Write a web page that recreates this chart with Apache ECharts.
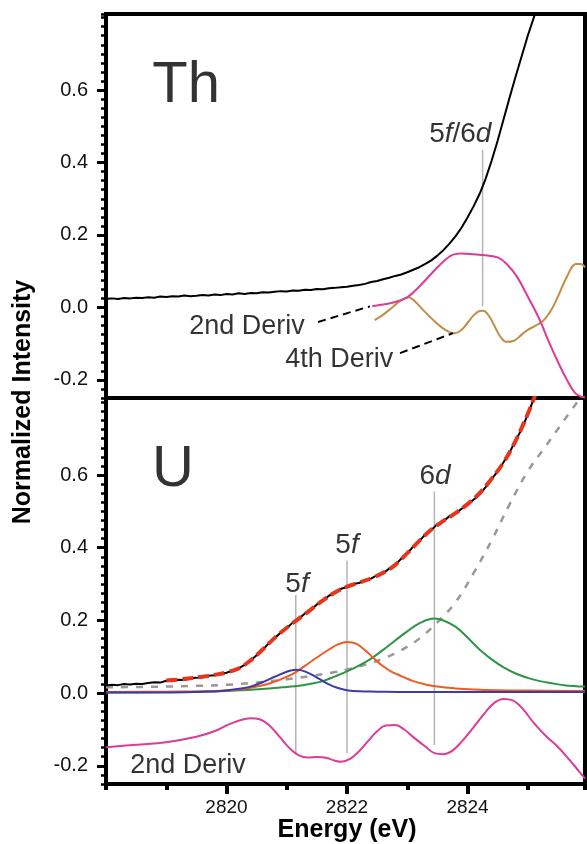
<!DOCTYPE html>
<html>
<head>
<meta charset="utf-8">
<script src="https://cdn.jsdelivr.net/npm/echarts@6/dist/echarts.min.js"></script>
<style>
  html, body { margin: 0; padding: 0; background: #fff; }
  #chart { width: 587px; height: 844px; }
</style>
</head>
<body>
<div id="chart"></div>
<script>
// ---- data (energy in eV, normalized intensity) ----
// Th panel
var thXanes = [
  [2818.0,0.024],[2818.1,0.025],[2818.2,0.023],[2818.3,0.026],[2818.4,0.025],[2818.5,0.027],
  [2818.6,0.026],[2818.7,0.028],[2818.8,0.027],[2818.9,0.030],[2819.0,0.029],[2819.1,0.031],
  [2819.2,0.030],[2819.3,0.033],[2819.4,0.031],[2819.5,0.032],[2819.6,0.034],[2819.7,0.033],
  [2819.8,0.036],[2819.9,0.034],[2820.0,0.037],[2820.1,0.036],[2820.2,0.039],[2820.3,0.037],
  [2820.4,0.040],[2820.5,0.039],[2820.6,0.042],[2820.7,0.041],[2820.8,0.043],[2820.9,0.045],
  [2821.0,0.044],[2821.1,0.047],[2821.2,0.046],[2821.3,0.049],[2821.4,0.048],[2821.5,0.051],
  [2821.6,0.050],[2821.7,0.053],[2821.8,0.054],[2821.9,0.056],[2822.0,0.057],[2822.1,0.060],
  [2822.2,0.062],[2822.3,0.065],[2822.4,0.070],[2822.5,0.073],[2822.6,0.078],[2822.7,0.082],
  [2822.8,0.087],[2822.9,0.091],[2823.0,0.097],[2823.1,0.104],[2823.2,0.111],[2823.3,0.120],
  [2823.4,0.130],[2823.5,0.143],[2823.6,0.158],[2823.7,0.176],[2823.8,0.196],[2823.9,0.220],
  [2824.0,0.248],[2824.1,0.279],[2824.2,0.313],[2824.3,0.355],[2824.4,0.405],[2824.5,0.460],
  [2824.6,0.520],[2824.7,0.580],[2824.8,0.638],[2824.9,0.694],[2825.0,0.750],[2825.1,0.800],
  [2825.2,0.850]
];
var th2ndDeriv = [
  [2822.42,0.003],[2822.6,0.008],[2822.8,0.015],[2823.0,0.028],[2823.2,0.058],[2823.4,0.093],
  [2823.6,0.127],[2823.75,0.145],[2823.9,0.149],[2824.1,0.147],[2824.3,0.144],[2824.5,0.138],
  [2824.65,0.120],[2824.82,0.085],[2825.0,0.030],[2825.2,-0.035],[2825.35,-0.095],
  [2825.5,-0.150],[2825.65,-0.200],[2825.78,-0.235],[2825.88,-0.246],[2825.95,-0.248]
];
var th4thDeriv = [
  [2822.46,-0.035],[2822.6,-0.020],[2822.75,0.000],[2822.9,0.020],[2823.02,0.028],[2823.12,0.018],
  [2823.27,-0.008],[2823.42,-0.033],[2823.57,-0.055],[2823.7,-0.068],[2823.79,-0.071],
  [2823.9,-0.062],[2824.0,-0.043],[2824.1,-0.022],[2824.2,-0.010],[2824.26,-0.009],
  [2824.35,-0.022],[2824.45,-0.052],[2824.55,-0.082],[2824.65,-0.095],[2824.77,-0.092],
  [2824.9,-0.075],[2825.0,-0.062],[2825.1,-0.053],[2825.25,-0.038],[2825.38,-0.010],
  [2825.5,0.030],[2825.65,0.085],[2825.8,0.120],[2825.88,0.120],[2825.95,0.110]
];
// U panel
var uXanes = [
  [2818.0,0.021],[2818.1,0.023],[2818.2,0.022],[2818.3,0.025],[2818.4,0.024],[2818.5,0.026],
  [2818.6,0.025],[2818.7,0.028],[2818.8,0.030],[2818.9,0.029],[2819.0,0.034],[2819.1,0.033],
  [2819.2,0.037],[2819.3,0.036],[2819.4,0.041],[2819.5,0.042],[2819.6,0.044],[2819.7,0.048],
  [2819.8,0.049],[2819.9,0.054],[2820.0,0.056],[2820.1,0.062],[2820.2,0.068],[2820.3,0.078],
  [2820.4,0.090],[2820.5,0.104],[2820.6,0.119],[2820.7,0.137],[2820.8,0.151],[2820.9,0.167],
  [2821.0,0.179],[2821.1,0.194],[2821.2,0.204],[2821.3,0.219],[2821.4,0.229],[2821.5,0.244],
  [2821.6,0.254],[2821.7,0.268],[2821.8,0.276],[2821.9,0.287],[2822.0,0.292],[2822.1,0.300],
  [2822.2,0.303],[2822.3,0.311],[2822.4,0.315],[2822.5,0.325],[2822.6,0.329],[2822.7,0.343],
  [2822.8,0.352],[2822.9,0.370],[2823.0,0.384],[2823.1,0.404],[2823.2,0.418],[2823.3,0.437],
  [2823.4,0.449],[2823.5,0.465],[2823.6,0.473],[2823.7,0.487],[2823.8,0.494],[2823.9,0.507],
  [2824.0,0.518],[2824.1,0.532],[2824.2,0.546],[2824.3,0.567],[2824.4,0.589],[2824.5,0.610],
  [2824.6,0.636],[2824.7,0.663],[2824.8,0.695],[2824.9,0.727],[2825.0,0.766],[2825.1,0.810],
  [2825.2,0.855]
];
var uFit = [
  [2819.0,0.035],[2819.2,0.037],[2819.4,0.041],[2819.6,0.045],[2819.8,0.050],[2820.0,0.057],
  [2820.2,0.068],[2820.4,0.090],[2820.6,0.120],[2820.8,0.152],[2821.0,0.180],[2821.2,0.205],
  [2821.4,0.230],[2821.6,0.255],[2821.8,0.277],[2822.0,0.293],[2822.2,0.304],[2822.4,0.316],
  [2822.6,0.331],[2822.8,0.353],[2823.0,0.385],[2823.2,0.419],[2823.4,0.450],[2823.6,0.474],
  [2823.8,0.495],[2824.0,0.520],[2824.2,0.550],[2824.4,0.590],[2824.6,0.635],[2824.8,0.695],
  [2825.0,0.768],[2825.1,0.810],[2825.2,0.855]
];
var uEdgeStep = [
  [2818.0,0.016],[2818.5,0.017],[2819.0,0.018],[2819.5,0.020],[2820.0,0.023],[2820.5,0.029],
  [2821.0,0.038],[2821.4,0.047],[2821.8,0.058],[2822.0,0.065],[2822.3,0.078],[2822.6,0.095],
  [2822.9,0.118],[2823.2,0.150],[2823.5,0.195],[2823.8,0.250],[2824.1,0.330],[2824.4,0.420],
  [2824.7,0.520],[2825.0,0.610],[2825.3,0.680],[2825.6,0.750],[2825.95,0.830]
];
var uPeak5fLow = [
  [2818.0,0.002],[2819.0,0.002],[2819.6,0.004],[2819.9,0.006],[2820.2,0.012],[2820.4,0.018],
  [2820.6,0.030],[2820.8,0.045],[2821.0,0.059],[2821.15,0.064],[2821.3,0.060],[2821.5,0.043],
  [2821.7,0.024],[2821.85,0.014],[2822.0,0.008],[2822.2,0.005],[2822.5,0.004],[2823.0,0.003],
  [2825.95,0.003]
];
var uPeak5fHigh = [
  [2818.0,0.003],[2819.0,0.004],[2819.8,0.006],[2820.2,0.010],[2820.5,0.018],[2820.7,0.026],
  [2820.9,0.038],[2821.1,0.053],[2821.3,0.075],[2821.5,0.098],[2821.7,0.120],[2821.85,0.134],
  [2822.0,0.141],[2822.15,0.136],[2822.3,0.118],[2822.45,0.095],[2822.6,0.074],[2822.75,0.058],
  [2822.9,0.047],[2823.1,0.033],[2823.3,0.024],[2823.5,0.018],[2823.8,0.013],[2824.1,0.010],
  [2824.5,0.008],[2825.0,0.007],[2825.95,0.006]
];
var uPeak6d = [
  [2818.0,0.002],[2819.0,0.003],[2819.6,0.004],[2820.0,0.006],[2820.4,0.009],[2820.8,0.014],
  [2821.0,0.017],[2821.2,0.020],[2821.4,0.026],[2821.6,0.033],[2821.8,0.046],[2822.0,0.060],
  [2822.2,0.076],[2822.4,0.095],[2822.6,0.119],[2822.8,0.145],[2823.0,0.170],[2823.2,0.192],
  [2823.45,0.205],[2823.6,0.200],[2823.8,0.183],[2824.0,0.153],[2824.2,0.120],[2824.4,0.093],
  [2824.6,0.071],[2824.8,0.054],[2825.0,0.042],[2825.2,0.033],[2825.4,0.027],[2825.6,0.022],
  [2825.95,0.018]
];
var u2ndDeriv = [
  [2818.0,-0.149],[2818.5,-0.142],[2819.0,-0.135],[2819.5,-0.120],[2819.8,-0.105],[2820.0,-0.089],
  [2820.2,-0.076],[2820.4,-0.069],[2820.55,-0.072],[2820.7,-0.087],[2820.9,-0.124],[2821.05,-0.152],
  [2821.2,-0.171],[2821.35,-0.177],[2821.5,-0.176],[2821.65,-0.178],[2821.8,-0.186],[2821.9,-0.189],
  [2822.05,-0.181],[2822.2,-0.160],[2822.35,-0.132],[2822.5,-0.105],[2822.65,-0.089],[2822.8,-0.088],
  [2822.95,-0.100],[2823.1,-0.121],[2823.3,-0.147],[2823.45,-0.165],[2823.6,-0.168],[2823.75,-0.158],
  [2823.9,-0.134],[2824.1,-0.094],[2824.3,-0.052],[2824.45,-0.026],[2824.6,-0.016],[2824.75,-0.020],
  [2824.9,-0.040],[2825.1,-0.082],[2825.3,-0.118],[2825.5,-0.148],[2825.7,-0.185],[2825.85,-0.215],
  [2825.95,-0.235]
];
// peak markers (energy, from, to) and leader lines for the Th derivative labels
var thMarkers = [[2824.25, 0.435, 0.003]];
var uMarkers = [[2821.15, 0.27, -0.165], [2822.0, 0.365, -0.165], [2823.45, 0.555, -0.143]];
var thLeader2nd = [[2821.52,-0.040],[2822.38,0.003]];
var thLeader4th = [[2822.88,-0.126],[2823.76,-0.071]];
// text labels
var thLabels = [
  {text: 'Th', at: [2819.33, 0.611], size: 58},
  {text: '5{i|f}/6{i|d}', at: [2823.88, 0.479], size: 28},
  {text: '2nd Deriv', at: [2820.34, -0.054], size: 27},
  {text: '4th Deriv', at: [2821.87, -0.145], size: 27}
];
var uLabels = [
  {text: 'U', at: [2819.11, 0.613], size: 58},
  {text: '5{i|f}', at: [2821.17, 0.300], size: 28},
  {text: '5{i|f}', at: [2822.0, 0.407], size: 28},
  {text: '6{i|d}', at: [2823.46, 0.597], size: 28},
  {text: '2nd Deriv', at: [2819.36, -0.198], size: 27}
];
// axis ranges
var eMin = 2818, eMax = 2825.95;
var thRange = [-0.25, 0.81], uRange = [-0.25, 0.812];
var yTickRange = [-0.2, 0.6];   // labelled ticks
var eTickRange = [2820, 2824];  // labelled ticks

var FONT = "'Liberation Sans', Arial, Helvetica, sans-serif";
var LEFT = 106, WIDTH = 479;
var TH_TOP = 14, TH_H = 384, U_TOP = 398, U_H = 386;

var chart = echarts.init(document.getElementById('chart'));

function lineSeries(data, xi, yi, color, width, extra) {
  var s = {
    type: 'line', data: data, xAxisIndex: xi, yAxisIndex: yi,
    symbol: 'none', silent: true, animation: false,
    lineStyle: {color: color, width: width}
  };
  for (var key in extra) s[key] = extra[key];
  return s;
}
function withSmooth(extra) { return Object.assign({smooth: 0.4}, extra || {}); }

function markerSeries(list, xi, yi) {
  return list.map(function (m) {
    return lineSeries([[m[0], m[1]], [m[0], m[2]]], xi, yi, '#b4b4b4', 1.5, {z: 1});
  });
}

function labelSeries(list, xi, yi) {
  return {
    type: 'scatter', xAxisIndex: xi, yAxisIndex: yi, symbolSize: 1, silent: true,
    itemStyle: {color: 'rgba(0,0,0,0)'}, animation: false, z: 10,
    data: list.map(function (l) {
      return {
        value: l.at,
        label: {
          show: true, position: 'inside', formatter: l.text,
          fontSize: l.size, fontFamily: FONT, color: '#000',
          rich: {i: {fontStyle: 'italic', fontSize: l.size, fontFamily: FONT, color: '#000'}}
        }
      };
    })
  };
}

var series = [];
// Th panel (grid 0: xAxis 0, yAxis 0)
series = series.concat(markerSeries(thMarkers, 0, 0));
series.push(lineSeries(thXanes, 0, 0, '#000', 2));
series.push(lineSeries(th4thDeriv, 0, 0, '#c48c45', 2, withSmooth()));
series.push(lineSeries(th2ndDeriv, 0, 0, '#dc3c96', 2, withSmooth()));
series.push(lineSeries(thLeader2nd, 0, 0, '#000', 2, {lineStyle: {color: '#000', width: 2, type: [8, 5]}}));
series.push(lineSeries(thLeader4th, 0, 0, '#000', 2, {lineStyle: {color: '#000', width: 2, type: [8, 5]}}));
series.push(labelSeries(thLabels, 0, 0));
// U panel (grid 1: xAxis 1, yAxis 1)
series = series.concat(markerSeries(uMarkers, 1, 1));
series.push(lineSeries(uEdgeStep, 1, 1, '#9e9696', 2.5, withSmooth({lineStyle: {color: '#9e9696', width: 2.5, type: [7, 8]}})));
series.push(lineSeries(uPeak6d, 1, 1, '#2e9447', 2, withSmooth()));
series.push(lineSeries(uPeak5fHigh, 1, 1, '#ef5b23', 2, withSmooth()));
series.push(lineSeries(uPeak5fLow, 1, 1, '#3c3ca8', 2, withSmooth()));
series.push(lineSeries(u2ndDeriv, 1, 1, '#dc3c96', 2, withSmooth()));
series.push(lineSeries(uXanes, 1, 1, '#000', 2));
series.push(lineSeries(uFit, 1, 1, '#e8341c', 4, withSmooth({lineStyle: {color: '#e8341c', width: 4, type: [11, 5]}})));
series.push(labelSeries(uLabels, 1, 1));

var axisLineOn = {show: true, onZero: false, lineStyle: {color: '#000', width: 4}};
var hidden = {show: false};

// helper grids carry the labelled (major) ticks; each spans exactly its tick range
function pxPerUnit(range, h) { return h / (range[1] - range[0]); }
var thK = pxPerUnit(thRange, TH_H), uK = pxPerUnit(uRange, U_H), eK = WIDTH / (eMax - eMin);

var gridBase = {show: false, containLabel: false, outerBoundsMode: 'none'};
var grids = [
  Object.assign({}, gridBase, {left: LEFT, top: TH_TOP, width: WIDTH, height: TH_H, show: true,
    borderColor: '#000', borderWidth: 4, backgroundColor: 'transparent'}),
  Object.assign({}, gridBase, {left: LEFT, top: U_TOP, width: WIDTH, height: U_H, show: true,
    borderColor: '#000', borderWidth: 4, backgroundColor: 'transparent'}),
  // 2: Th major y ticks
  Object.assign({}, gridBase, {left: LEFT, width: WIDTH,
    top: TH_TOP + (thRange[1] - yTickRange[1]) * thK, height: (yTickRange[1] - yTickRange[0]) * thK}),
  // 3: U major y ticks
  Object.assign({}, gridBase, {left: LEFT, width: WIDTH,
    top: U_TOP + (uRange[1] - yTickRange[1]) * uK, height: (yTickRange[1] - yTickRange[0]) * uK}),
  // 4: major energy ticks
  Object.assign({}, gridBase, {left: LEFT + (eTickRange[0] - eMin) * eK,
    width: (eTickRange[1] - eTickRange[0]) * eK, top: U_TOP, height: U_H})
];

var yLabelStyle = {show: true, margin: 18, fontSize: 20, fontFamily: FONT, color: '#111',
  formatter: function (v) { return v.toFixed(1); }};

var option = {
  backgroundColor: '#fff',
  animation: false,
  grid: grids,
  xAxis: [
    {type: 'value', gridIndex: 0, min: eMin, max: eMax, axisLine: {show: false, onZero: false},
      axisTick: hidden, axisLabel: hidden, splitLine: hidden},
    {type: 'value', gridIndex: 1, min: eMin, max: eMax, interval: 1, axisLine: axisLineOn,
      splitLine: hidden, axisLabel: hidden,
      axisTick: {show: true, length: 6, lineStyle: {color: '#000', width: 4}}},
    {type: 'value', gridIndex: 2, min: eMin, max: eMax, show: false},
    {type: 'value', gridIndex: 3, min: eMin, max: eMax, show: false},
    {type: 'value', gridIndex: 4, min: eTickRange[0], max: eTickRange[1], interval: 2,
      axisLine: {show: false, onZero: false}, splitLine: hidden,
      axisTick: {show: true, length: 10, lineStyle: {color: '#000', width: 4}},
      axisLabel: {show: true, margin: 14, fontSize: 19, fontFamily: FONT, color: '#111',
        formatter: function (v) { return String(v); }},
      name: 'Energy (eV)', nameLocation: 'middle', nameGap: 34,
      nameTextStyle: {fontSize: 25, fontWeight: 'bold', fontFamily: FONT, color: '#000'}}
  ],
  yAxis: [
    // minor ticks every 0.025 (min = -0.25 is a multiple of it)
    {type: 'value', gridIndex: 0, min: thRange[0], max: thRange[1], interval: 0.025,
      axisLine: axisLineOn, splitLine: hidden, axisLabel: hidden,
      axisTick: {show: true, length: 5, lineStyle: {color: '#000', width: 2.5}}},
    {type: 'value', gridIndex: 1, min: uRange[0], max: uRange[1], interval: 0.025,
      axisLine: axisLineOn, splitLine: hidden, axisLabel: hidden,
      axisTick: {show: true, length: 5, lineStyle: {color: '#000', width: 2.5}}},
    {type: 'value', gridIndex: 2, min: yTickRange[0], max: yTickRange[1], interval: 0.2,
      axisLine: {show: false, onZero: false}, splitLine: hidden, axisLabel: yLabelStyle,
      axisTick: {show: true, length: 9, lineStyle: {color: '#000', width: 3}}},
    {type: 'value', gridIndex: 3, min: yTickRange[0], max: yTickRange[1], interval: 0.2,
      axisLine: {show: false, onZero: false}, splitLine: hidden, axisLabel: yLabelStyle,
      axisTick: {show: true, length: 9, lineStyle: {color: '#000', width: 3}}},
    {type: 'value', gridIndex: 4, min: uRange[0], max: uRange[1], show: false}
  ],
  graphic: [{
    type: 'text', x: 23, y: 402, rotation: Math.PI / 2,
    style: {text: 'Normalized Intensity', fill: '#000', font: 'bold 25px ' + FONT,
      textAlign: 'center', textVerticalAlign: 'middle', align: 'center', verticalAlign: 'middle'}
  }],
  series: series
};
chart.setOption(option);
</script>
</body>
</html>
